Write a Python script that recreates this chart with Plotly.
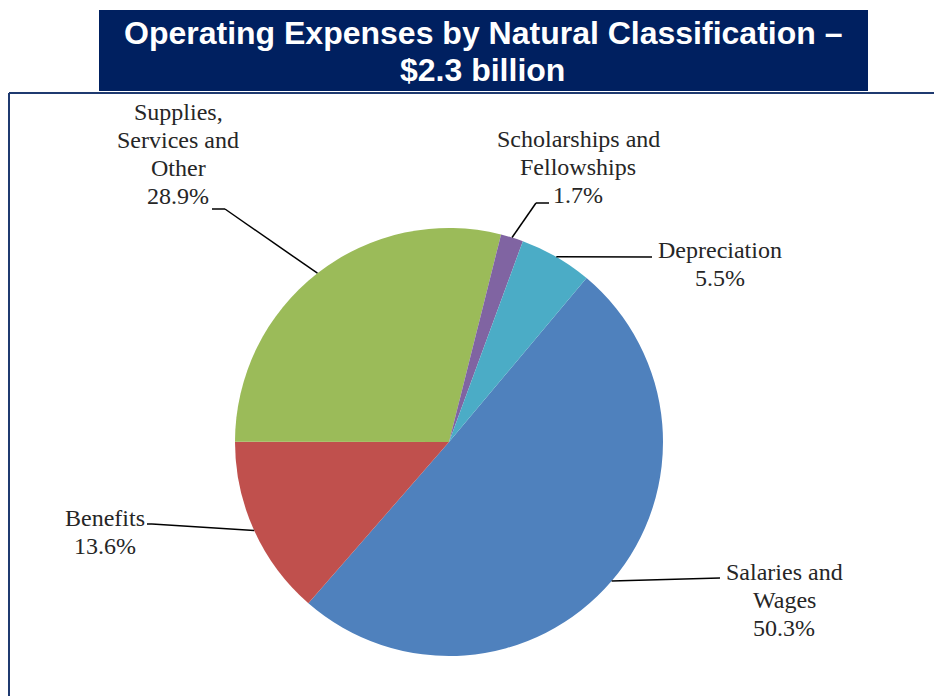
import math
import plotly.graph_objects as go

# page body adds an 8px margin; draw in screen pixels and shift back
OFF = 8
W, H = 942 - OFF, 696 - OFF

# data
categories = ["Salaries and Wages", "Benefits", "Supplies, Services and Other",
              "Scholarships and Fellowships", "Depreciation"]
label_lines = [["Salaries and", "Wages"], ["Benefits"], ["Supplies,", "Services and", "Other"],
               ["Scholarships and", "Fellowships"], ["Depreciation"]]
shares = [50.3, 13.6, 28.9, 1.7, 5.5]
colors = ["#4F81BD", "#C0504D", "#9BBB59", "#8064A2", "#4BACC6"]

title_lines = ["Operating Expenses by Natural Classification –", "$2.3 billion"]

# pie placement (screen pixels)
cx, cy, r = 449, 442, 214
rotation = 40

# label block centres and leader-line elbows (screen pixels)
label_pos = [(784, 600), (105, 532), (178, 154), (578, 167), (720, 264)]
elbows = [[(720, 578)], [(152, 524), (147, 524)], [(225, 209), (212, 209)],
          [(536, 203), (549, 203)], [(652, 257)]]
line_step = 28


def px(x, y):
    return (x - OFF) / W, 1 - (y - OFF) / H


fig = go.Figure()

fig.add_trace(go.Pie(
    labels=categories,
    values=shares,
    sort=False,
    direction="clockwise",
    rotation=rotation,
    marker=dict(colors=colors, line=dict(width=0)),
    textinfo="none",
    hoverinfo="label+percent",
    showlegend=False,
    domain=dict(x=[px(cx - r, 0)[0], px(cx + r, 0)[0]],
                y=[px(0, cy + r)[1], px(0, cy - r)[1]]),
))

shapes = []
annotations = []

# leader lines from mid-angle of each slice
total = sum(shares)
cum = 0
for i, v in enumerate(shares):
    mid = math.radians(rotation + 360 * (cum + v / 2) / total)
    cum += v
    pts = [(cx + r * math.sin(mid), cy - r * math.cos(mid))] + elbows[i]
    for (x0, y0), (x1, y1) in zip(pts[:-1], pts[1:]):
        a0, b0 = px(x0, y0)
        a1, b1 = px(x1, y1)
        shapes.append(dict(type="line", xref="paper", yref="paper", x0=a0, y0=b0, x1=a1, y1=b1,
                           line=dict(color="black", width=1.5)))
    lines = label_lines[i] + [f"{v:.1f}%"]
    n = len(lines)
    for k, t in enumerate(lines):
        lx, ly = px(label_pos[i][0], label_pos[i][1] + (k - (n - 1) / 2) * line_step)
        annotations.append(dict(
            x=lx, y=ly, xref="paper", yref="paper", xanchor="center", yanchor="middle",
            text=t, showarrow=False,
            font=dict(family="Liberation Serif, Times New Roman, serif", size=24, color="#262626"),
        ))

# title box
bx0, by0 = px(99, 91)
bx1, by1 = px(868, 10)
shapes.append(dict(type="rect", xref="paper", yref="paper", x0=bx0, y0=by0, x1=bx1, y1=by1,
                   fillcolor="#002060", line=dict(width=0)))
for k, t in enumerate(title_lines):
    tx, ty = px(483, 33 + k * 37)
    annotations.append(dict(
        x=tx, y=ty, xref="paper", yref="paper", xanchor="center", yanchor="middle",
        text=f"<b>{t}</b>", showarrow=False,
        font=dict(family="Liberation Sans, Arial, sans-serif", size=32, color="white"),
    ))

# frame lines
fx0, fy0 = px(9, 93)
fx1, fy1 = px(942, 696)
shapes.append(dict(type="line", xref="paper", yref="paper", x0=fx0, y0=fy0, x1=fx1, y1=fy0,
                   line=dict(color="#1F3A70", width=2)))
shapes.append(dict(type="line", xref="paper", yref="paper", x0=fx0, y0=fy0, x1=fx0, y1=fy1,
                   line=dict(color="#1F3A70", width=2)))

fig.update_layout(
    width=W, height=H,
    margin=dict(l=0, r=0, t=0, b=0),
    paper_bgcolor="white",
    plot_bgcolor="white",
    shapes=shapes,
    annotations=annotations,
)

fig.write_html("out.html")
